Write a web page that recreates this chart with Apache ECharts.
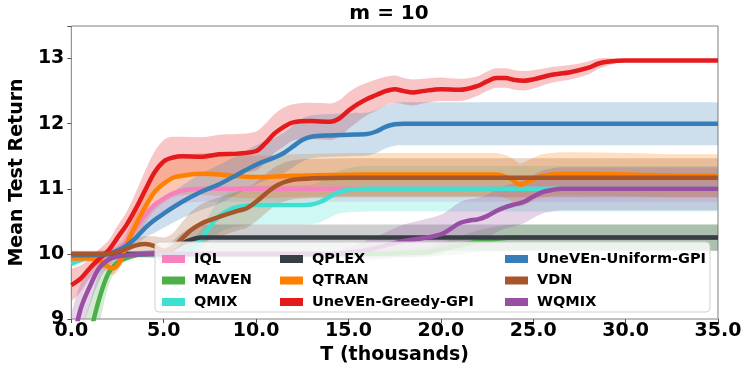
<!DOCTYPE html>
<html>
<head>
<meta charset="utf-8">
<title>m = 10</title>
<script src="https://cdn.jsdelivr.net/npm/echarts@6/dist/echarts.min.js"></script>
</head>
<body style="margin:0">
<div id="main" style="width:747px;height:371px;"></div>
<script>
// x ticks / axis
var xTicks = [0, 5, 10, 15, 20, 25, 30, 35];
var yTicks = [9, 10, 11, 12, 13];

// IQL
var iqlT      = [0, 1, 2, 2.5, 3, 3.5, 4, 4.5, 5, 5.5, 6, 7, 8, 12, 20, 28, 35];
var iqlMean   = [10.0, 10.0, 10.0, 10.05, 10.2, 10.4, 10.6, 10.75, 10.85, 10.93, 10.97, 11.0, 11.0, 11.0, 11.0, 11.0, 11.0];
var iqlSpread = [0.05, 0.05, 0.08, 0.1, 0.15, 0.2, 0.2, 0.2, 0.2, 0.2, 0.2, 0.2, 0.2, 0.2, 0.2, 0.2, 0.2];

// MAVEN
var mavenT      = [0, 0.5, 1, 1.5, 2, 2.5, 3, 3.5, 4, 6, 10, 15, 19, 20, 21, 22, 23, 24, 35];
var mavenMean   = [7.6, 8.2, 8.75, 9.3, 9.7, 9.87, 9.94, 9.98, 10.0, 10.0, 10.0, 10.0, 10.02, 10.07, 10.13, 10.19, 10.23, 10.25, 10.25];
var mavenSpread = [0.6, 0.6, 0.5, 0.4, 0.2, 0.1, 0.05, 0.03, 0.03, 0.05, 0.05, 0.05, 0.07, 0.1, 0.14, 0.17, 0.19, 0.2, 0.2];

// QMIX
var qmixT      = [0, 1, 2, 3, 4, 5, 6, 6.5, 7, 7.5, 8, 8.5, 9, 10, 11, 12, 13, 13.5, 14, 14.5, 15, 16, 20, 25, 35];
var qmixMean   = [9.85, 9.95, 10.0, 10.0, 10.0, 10.0, 10.02, 10.08, 10.22, 10.42, 10.58, 10.67, 10.72, 10.75, 10.75, 10.75, 10.76, 10.8, 10.88, 10.95, 10.98, 11.0, 11.0, 11.0, 11.0];
var qmixSpread = [0.05, 0.05, 0.05, 0.05, 0.05, 0.05, 0.06, 0.1, 0.15, 0.2, 0.25, 0.28, 0.3, 0.3, 0.3, 0.3, 0.3, 0.31, 0.32, 0.33, 0.34, 0.35, 0.35, 0.35, 0.35];

// QPLEX
var qplexT      = [0, 2, 4, 5, 5.5, 6, 6.5, 7, 8, 12, 20, 35];
var qplexMean   = [10.0, 10.0, 10.0, 10.02, 10.08, 10.16, 10.22, 10.25, 10.25, 10.25, 10.25, 10.25];
var qplexSpread = [0.03, 0.03, 0.05, 0.08, 0.12, 0.16, 0.19, 0.2, 0.2, 0.2, 0.2, 0.2];

// QTRAN
var qtranT      = [0, 1, 1.5, 2, 2.3, 2.7, 3, 3.5, 4, 4.5, 5, 5.5, 6, 7, 8, 10, 12, 16, 20, 23, 23.8, 24.3, 24.8, 25.5, 27, 30, 33, 35];
var qtranMean   = [9.93, 9.93, 9.9, 9.8, 9.78, 9.92, 10.15, 10.45, 10.72, 10.95, 11.08, 11.17, 11.2, 11.23, 11.22, 11.18, 11.2, 11.22, 11.22, 11.22, 11.15, 11.06, 11.12, 11.2, 11.23, 11.22, 11.2, 11.2];
var qtranSpread = [0.03, 0.05, 0.08, 0.1, 0.1, 0.1, 0.15, 0.2, 0.25, 0.28, 0.3, 0.3, 0.3, 0.32, 0.33, 0.33, 0.33, 0.33, 0.33, 0.33, 0.33, 0.33, 0.33, 0.33, 0.33, 0.33, 0.33, 0.33];

// UneVEn-Greedy-GPI
var greedyT      = [0, 0.5, 1, 1.5, 2, 2.5, 3, 3.5, 4, 4.5, 5, 5.5, 6, 7, 8, 9, 10, 10.5, 11, 11.5, 12, 13, 14, 14.5, 15, 15.5, 16, 16.5, 17, 17.5, 18, 18.5, 19, 20, 21, 22, 22.5, 23, 23.5, 24, 24.5, 25, 26, 27, 28, 28.5, 29, 30, 32, 35];
var greedyMean   = [9.52, 9.62, 9.78, 9.92, 10.05, 10.25, 10.45, 10.7, 10.98, 11.25, 11.42, 11.48, 11.5, 11.49, 11.53, 11.54, 11.58, 11.7, 11.85, 11.95, 12.02, 12.04, 12.03, 12.08, 12.2, 12.3, 12.38, 12.44, 12.5, 12.53, 12.5, 12.48, 12.5, 12.53, 12.52, 12.58, 12.65, 12.7, 12.7, 12.67, 12.66, 12.68, 12.75, 12.79, 12.86, 12.92, 12.95, 12.97, 12.97, 12.97];
var greedySpread = [0.25, 0.2, 0.15, 0.15, 0.15, 0.18, 0.2, 0.25, 0.3, 0.32, 0.33, 0.32, 0.3, 0.3, 0.3, 0.3, 0.3, 0.3, 0.3, 0.3, 0.28, 0.28, 0.28, 0.28, 0.28, 0.27, 0.25, 0.24, 0.22, 0.21, 0.2, 0.2, 0.19, 0.18, 0.17, 0.15, 0.15, 0.15, 0.15, 0.15, 0.15, 0.14, 0.12, 0.11, 0.1, 0.08, 0.06, 0.02, 0.02, 0.02];

// UneVEn-Uniform-GPI
var uniformT      = [0, 1, 2, 2.5, 3, 3.5, 4, 4.5, 5, 6, 7, 8, 9, 10, 11, 11.5, 12, 12.5, 13, 14, 15, 16, 16.5, 17, 17.5, 18, 20, 35];
var uniformMean   = [9.98, 9.98, 10.0, 10.05, 10.13, 10.25, 10.4, 10.52, 10.62, 10.8, 10.95, 11.07, 11.22, 11.37, 11.48, 11.55, 11.65, 11.75, 11.8, 11.82, 11.83, 11.84, 11.88, 11.95, 11.99, 12.0, 12.0, 12.0];
var uniformSpread = [0.05, 0.05, 0.05, 0.07, 0.1, 0.12, 0.15, 0.2, 0.22, 0.25, 0.28, 0.3, 0.3, 0.3, 0.3, 0.31, 0.32, 0.33, 0.33, 0.33, 0.33, 0.33, 0.33, 0.33, 0.33, 0.33, 0.33, 0.33];

// VDN
var vdnT      = [0, 1, 2, 2.5, 3, 3.5, 4, 4.5, 5, 5.5, 6, 6.5, 7, 7.5, 8, 9, 9.5, 10, 10.5, 11, 11.5, 12, 13, 15, 20, 35];
var vdnMean   = [10.0, 10.0, 10.0, 10.03, 10.08, 10.13, 10.15, 10.12, 10.05, 10.1, 10.24, 10.37, 10.46, 10.52, 10.57, 10.66, 10.7, 10.8, 10.92, 11.03, 11.1, 11.14, 11.16, 11.17, 11.17, 11.17];
var vdnSpread = [0.02, 0.02, 0.03, 0.05, 0.08, 0.1, 0.12, 0.15, 0.2, 0.22, 0.25, 0.28, 0.3, 0.3, 0.3, 0.3, 0.3, 0.3, 0.3, 0.3, 0.3, 0.3, 0.3, 0.3, 0.3, 0.3];

// WQMIX
var wqmixT      = [0, 0.5, 1, 1.5, 2, 2.5, 3, 4, 6, 10, 14, 15, 16, 17, 18, 19, 20, 20.5, 21, 21.5, 22, 22.5, 23, 23.5, 24, 24.5, 25, 25.5, 26, 26.5, 27, 30, 35];
var wqmixMean   = [8.5, 9.15, 9.5, 9.78, 9.91, 9.96, 9.98, 10.0, 10.0, 10.0, 10.0, 10.02, 10.06, 10.13, 10.2, 10.24, 10.3, 10.38, 10.47, 10.51, 10.53, 10.58, 10.66, 10.72, 10.76, 10.8, 10.88, 10.95, 10.98, 11.0, 11.0, 11.0, 11.0];
var wqmixSpread = [0.6, 0.4, 0.3, 0.2, 0.1, 0.07, 0.05, 0.05, 0.05, 0.05, 0.05, 0.08, 0.15, 0.2, 0.25, 0.28, 0.3, 0.31, 0.32, 0.33, 0.33, 0.33, 0.33, 0.33, 0.33, 0.33, 0.33, 0.33, 0.33, 0.33, 0.33, 0.33, 0.33];

var algos = [
    {name: 'IQL', color: '#f781bf', t: iqlT, mean: iqlMean, spread: iqlSpread},
    {name: 'MAVEN', color: '#4daf4a', t: mavenT, mean: mavenMean, spread: mavenSpread},
    {name: 'QMIX', color: '#40e0d0', t: qmixT, mean: qmixMean, spread: qmixSpread},
    {name: 'QPLEX', color: '#373e44', t: qplexT, mean: qplexMean, spread: qplexSpread},
    {name: 'QTRAN', color: '#ff7f00', t: qtranT, mean: qtranMean, spread: qtranSpread},
    {name: 'UneVEn-Greedy-GPI', color: '#e41a1c', t: greedyT, mean: greedyMean, spread: greedySpread},
    {name: 'UneVEn-Uniform-GPI', color: '#377eb8', t: uniformT, mean: uniformMean, spread: uniformSpread},
    {name: 'VDN', color: '#a65628', t: vdnT, mean: vdnMean, spread: vdnSpread},
    {name: 'WQMIX', color: '#984ea3', t: wqmixT, mean: wqmixMean, spread: wqmixSpread}
];

var font = 'DejaVu Sans';
var SMOOTH = 0.35;
var series = [];

// cubic (hermite-ish) curve through pixel points; tangents flattened at local extrema
function curveCmds(p, first) {
    var n = p.length, m = [], s = [];
    for (var i = 0; i < n - 1; i++) s.push((p[i + 1][1] - p[i][1]) / (p[i + 1][0] - p[i][0]));
    for (var i = 0; i < n; i++) {
        if (i === 0) m.push(s[0]);
        else if (i === n - 1) m.push(s[n - 2]);
        else if (s[i - 1] * s[i] <= 0) m.push(0);
        else m.push((p[i + 1][1] - p[i - 1][1]) / (p[i + 1][0] - p[i - 1][0]));
    }
    var d = (first ? 'M' : 'L') + p[0][0] + ' ' + p[0][1];
    for (var i = 0; i < n - 1; i++) {
        var dx = (p[i + 1][0] - p[i][0]) / 3;
        d += 'C' + (p[i][0] + dx) + ' ' + (p[i][1] + m[i] * dx) + ' ' +
             (p[i + 1][0] - dx) + ' ' + (p[i + 1][1] - m[i + 1] * dx) + ' ' +
             p[i + 1][0] + ' ' + p[i + 1][1];
    }
    return d;
}

// shaded bands, placed with the axes' own coord()
algos.forEach(function (a) {
    series.push({
        name: a.name + ' band', type: 'custom', silent: true, z: 1,
        data: [0],
        renderItem: function (params, api) {
            var up = [], lo = [];
            for (var k = 0; k < a.t.length; k++) {
                up.push(api.coord([a.t[k], a.mean[k] + a.spread[k]]));
                lo.push(api.coord([a.t[k], a.mean[k] - a.spread[k]]));
            }
            var cs = params.coordSys;
            var d = curveCmds(up, true) + curveCmds(lo.reverse(), false) + 'Z';
            return {
                type: 'group',
                clipPath: {type: 'rect', shape: {x: cs.x, y: cs.y, width: cs.width, height: cs.height}},
                children: [
                    {type: 'path', shape: {pathData: d}, style: {fill: a.color, opacity: 0.25}}
                ]
            };
        }
    });
});

// mean lines
algos.forEach(function (a, i) {
    var pts = [];
    for (var k = 0; k < a.t.length; k++) pts.push([a.t[k], a.mean[k]]);
    series.push({
        name: a.name, type: 'line', data: pts,
        symbol: 'none', smooth: SMOOTH,
        itemStyle: {color: a.color},
        lineStyle: {color: a.color, width: 4.5},
        z: 3 + i * 0.01
    });
});

var legendText = {fontFamily: font, fontWeight: 'bold', fontSize: 14.5, color: '#000', lineHeight: 16, padding: [0, 0, 0, 4]};
function makeLegend(names, left) {
    return {
        data: names, orient: 'vertical', left: left, top: 246,
        itemWidth: 23, itemHeight: 8, itemGap: 5.5, icon: 'rect',
        textStyle: legendText, selectedMode: false, z: 60
    };
}

var myChart = echarts.init(document.getElementById('main'));
var option = {
    animation: false,
    grid: {left: 60, right: 29, top: 26, bottom: 52, show: true, borderColor: '#808080', borderWidth: 1},
    xAxis: {
        type: 'value', min: 0, max: 35, interval: 5,
        name: 'T (thousands)', nameLocation: 'middle', nameGap: 24,
        nameTextStyle: {fontFamily: font, fontWeight: 'bold', fontSize: 19, color: '#000'},
        axisLine: {show: false},
        axisTick: {show: true, length: 4, lineStyle: {color: '#555'}},
        splitLine: {show: false},
        axisLabel: {
            fontFamily: font, fontWeight: 'bold', fontSize: 19, color: '#000', margin: 3,
            formatter: function (v) { return xTicks.indexOf(v) >= 0 ? v.toFixed(1) : ''; }
        }
    },
    yAxis: {
        type: 'value', min: 9, max: 13.5, interval: 1,
        name: 'Mean Test Return', nameLocation: 'middle', nameGap: 27, nameRotate: 90,
        nameTextStyle: {fontFamily: font, fontWeight: 'bold', fontSize: 19, color: '#000'},
        axisLine: {show: false},
        axisTick: {show: true, length: 4, lineStyle: {color: '#555'}},
        splitLine: {show: false},
        axisLabel: {
            fontFamily: font, fontWeight: 'bold', fontSize: 19, color: '#000', margin: 7,
            formatter: function (v) { return yTicks.indexOf(v) >= 0 ? String(v) : ''; }
        }
    },
    legend: [
        makeLegend(['IQL', 'MAVEN', 'QMIX'], 157),
        makeLegend(['QPLEX', 'QTRAN', 'UneVEn-Greedy-GPI'], 275),
        makeLegend(['UneVEn-Uniform-GPI', 'VDN', 'WQMIX'], 500)
    ],
    graphic: [
        {
            type: 'rect', z: 50, silent: true,
            shape: {x: 155, y: 242, width: 555, height: 70, r: 4},
            style: {fill: 'rgba(255,255,255,0.8)', stroke: '#d0d0d0', lineWidth: 1}
        },
        {
            type: 'text', z: 50, x: 389, y: 14, silent: true,
            style: {text: 'm = 10', fontFamily: font, fontWeight: 'bold', fontSize: 20, fill: '#000',
                    textAlign: 'center', textVerticalAlign: 'middle'}
        }
    ],
    series: series
};
myChart.setOption(option);
</script>
</body>
</html>
